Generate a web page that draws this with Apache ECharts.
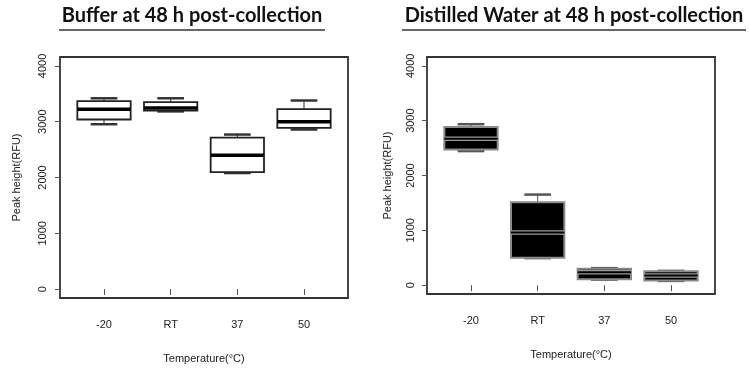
<!DOCTYPE html>
<html>
<head>
<meta charset="utf-8">
<script src="https://cdn.jsdelivr.net/npm/echarts@6/dist/echarts.min.js"></script>
<style>html,body{margin:0;padding:0;background:#fff}#c{width:749px;height:372px}</style>
</head>
<body>
<div id="c"></div>
<script>
const categories = ['-20', 'RT', '37', '50'];
const yTicks = [0, 1000, 2000, 3000, 4000];
const titles = ['Buffer at 48 h post-collection', 'Distilled Water at 48 h post-collection'];

// Buffer panel: min, Q1, median, Q3, max
const bufferMin    = [2955, 3185, 2080, 2860];
const bufferQ1     = [3040, 3200, 2095, 2890];
const bufferMedian = [3225, 3245, 2400, 3000];
const bufferQ3     = [3370, 3350, 2715, 3225];
const bufferMax    = [3420, 3420, 2770, 3380];

// Distilled water panel
const waterMin    = [2445, 494, 103, 79];
const waterQ1     = [2475, 500, 110, 85];
const waterMedian = [2670, 963, 238, 176];
const waterQ3     = [2885, 1512, 300, 255];
const waterMax    = [2935, 1652, 311, 262];

function rows(mn, q1, md, q3, mx) {
  return categories.map((c, i) => [i + 1, mn[i], q1[i], md[i], q3[i], mx[i]]);
}

const FONT = '"Liberation Sans Narrow", "Liberation Sans", Arial, sans-serif';
const FS = 11;

function makeRender(dark) {
  return function (params, api) {
    const x = api.value(0);
    const pLo = api.coord([x, api.value(1)]);
    const pQ1 = api.coord([x, api.value(2)]);
    const pMd = api.coord([x, api.value(3)]);
    const pQ3 = api.coord([x, api.value(4)]);
    const pHi = api.coord([x, api.value(5)]);
    const hb = api.size([0.8, 0])[0] / 2;
    const hc = hb / 2;
    const cx = pMd[0];
    const edge = dark ? '#8a8a8a' : '#222';
    const capC = dark ? '#555' : '#333';
    const ch = [
      { type: 'line', shape: { x1: cx, y1: pHi[1], x2: cx, y2: pQ3[1] }, style: { stroke: capC, lineWidth: 1 } },
      { type: 'line', shape: { x1: cx, y1: pLo[1], x2: cx, y2: pQ1[1] }, style: { stroke: capC, lineWidth: 1 } },
      { type: 'line', shape: { x1: cx - hc, y1: pHi[1], x2: cx + hc, y2: pHi[1] }, style: { stroke: capC, lineWidth: 2.5 } },
      { type: 'line', shape: { x1: cx - hc, y1: pLo[1], x2: cx + hc, y2: pLo[1] }, style: { stroke: capC, lineWidth: 2.5 } },
      { type: 'rect', shape: { x: cx - hb, y: pQ3[1], width: hb * 2, height: pQ1[1] - pQ3[1] },
        style: { fill: dark ? '#000' : '#fff', stroke: edge, lineWidth: dark ? 2 : 1.8 } }
    ];
    if (dark) {
      ch.push({ type: 'line', shape: { x1: cx - hb, y1: pMd[1], x2: cx + hb, y2: pMd[1] }, style: { stroke: '#9a9a9a', lineWidth: 4.5 } });
      ch.push({ type: 'line', shape: { x1: cx - hb, y1: pMd[1], x2: cx + hb, y2: pMd[1] }, style: { stroke: '#000', lineWidth: 2 } });
    } else {
      ch.push({ type: 'line', shape: { x1: cx - hb, y1: pMd[1], x2: cx + hb, y2: pMd[1] }, style: { stroke: '#000', lineWidth: 3.5 } });
    }
    return { type: 'group', children: ch };
  };
}

const grids = [
  { left: 60, top: 57, width: 288, height: 241 },
  { left: 427, top: 57, width: 288, height: 237 }
];

function xAxis(i) {
  return {
    type: 'value', gridIndex: i, min: 0.34, max: 4.66,
    name: 'Temperature(°C)', nameLocation: 'middle', nameGap: 55,
    nameTextStyle: { fontFamily: FONT, fontSize: FS, color: '#222', verticalAlign: 'top' },
    axisLine: { show: false },
    axisTick: { show: true, length: 6, customValues: [1, 2, 3, 4], lineStyle: { color: '#555', width: 1 } },
    axisLabel: { customValues: [1, 2, 3, 4], formatter: v => categories[Math.round(v) - 1], margin: 21,
      fontFamily: FONT, fontSize: FS, color: '#222' },
    splitLine: { show: false }
  };
}
function yAxis(i, gap, margin) {
  return {
    type: 'value', gridIndex: i, min: -160, max: 4160,
    name: 'Peak height(RFU)', nameLocation: 'middle', nameGap: gap, nameRotate: 90,
    nameTextStyle: { fontFamily: FONT, fontSize: FS, color: '#222' },
    axisLine: { show: false },
    axisTick: { show: true, length: 5, customValues: yTicks, lineStyle: { color: '#555', width: 1 } },
    axisLabel: { customValues: yTicks, rotate: 90, margin: margin, formatter: v => String(v),
      fontFamily: FONT, fontSize: FS, color: '#222' },
    splitLine: { show: false }
  };
}

const TFONT = 'Lato, "Open Sans", sans-serif';
const chart = echarts.init(document.getElementById('c'));
chart.setOption({
  animation: false,
  backgroundColor: '#fff',
  grid: grids.map(g => Object.assign({ show: true, borderColor: '#333', borderWidth: 1.8, backgroundColor: 'transparent' }, g)),
  xAxis: [xAxis(0), xAxis(1)],
  yAxis: [yAxis(0, 38, 12), yAxis(1, 34, 11)],
  graphic: [
    { type: 'text', x: 192, y: 6, style: { text: titles[0], align: 'center', fontFamily: TFONT, fontWeight: 'bold', fontSize: 20, fill: '#111' } },
    { type: 'line', shape: { x1: 59, y1: 30, x2: 325, y2: 30 }, style: { stroke: '#333', lineWidth: 1.5 } },
    { type: 'text', x: 574, y: 6, style: { text: titles[1], align: 'center', fontFamily: TFONT, fontWeight: 'bold', fontSize: 20, fill: '#111' } },
    { type: 'line', shape: { x1: 402, y1: 30, x2: 746, y2: 30 }, style: { stroke: '#333', lineWidth: 1.5 } }
  ],
  series: [
    { type: 'custom', xAxisIndex: 0, yAxisIndex: 0, renderItem: makeRender(false),
      data: rows(bufferMin, bufferQ1, bufferMedian, bufferQ3, bufferMax), encode: { x: 0, y: [1, 2, 3, 4, 5] } },
    { type: 'custom', xAxisIndex: 1, yAxisIndex: 1, renderItem: makeRender(true),
      data: rows(waterMin, waterQ1, waterMedian, waterQ3, waterMax), encode: { x: 0, y: [1, 2, 3, 4, 5] } }
  ]
});
</script>
</body>
</html>
